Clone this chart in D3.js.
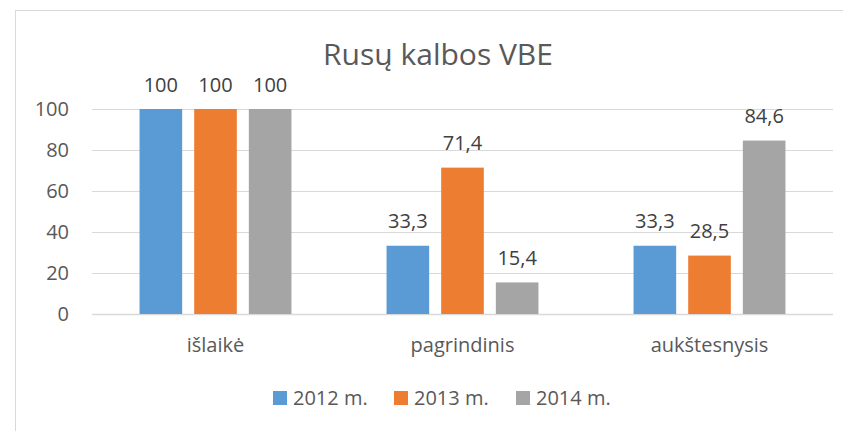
<!DOCTYPE html>
<html>
<head>
<meta charset="utf-8">
<script src="https://cdn.jsdelivr.net/npm/d3@7"></script>
<style>
  html, body { margin: 0; padding: 0; background: #fff; }
  svg { display: block; }
</style>
</head>
<body>
<div id="chart"></div>
<script>
const categories = ['išlaikė', 'pagrindinis', 'aukštesnysis'];
const seriesNames = ['2012 m.', '2013 m.', '2014 m.'];
const seriesColors = ['#5B9BD5', '#ED7D31', '#A5A5A5'];
const values2012 = [100, 33.3, 33.3];
const values2013 = [100, 71.4, 28.5];
const values2014 = [100, 15.4, 84.6];
const yTicks = [0, 20, 40, 60, 80, 100];

const seriesValues = [values2012, values2013, values2014];
const totalW = 843, totalH = 431;
const font = "'Open Sans', 'Noto Sans', sans-serif";
const textColor = '#595959';

const svg = d3.select('#chart').append('svg')
  .attr('width', totalW).attr('height', totalH);

// Chart frame (right/bottom edges are cut off in the reference)
svg.append('rect')
  .attr('x', 15.5).attr('y', 10.5)
  .attr('width', totalW + 20).attr('height', totalH + 20)
  .attr('fill', '#fff').attr('stroke', '#D9D9D9').attr('stroke-width', 1);

const plot = { left: 92, right: 833, top: 109, bottom: 314 };

const x0 = d3.scaleBand().domain(categories)
  .range([plot.left, plot.right]).paddingInner(0.385).paddingOuter(0.1925);
const x1 = d3.scaleBand().domain(seriesNames)
  .range([0, x0.bandwidth()]).paddingInner(0.22);
const y = d3.scaleLinear().domain([0, 100]).range([plot.bottom, plot.top]);

// Grid
svg.append('g').selectAll('line')
  .data(yTicks).enter().append('line')
  .attr('x1', plot.left).attr('x2', plot.right)
  .attr('y1', d => Math.round(y(d)) + 0.5).attr('y2', d => Math.round(y(d)) + 0.5)
  .attr('stroke', '#D9D9D9').attr('stroke-width', d => d === 0 ? 1.5 : 1);

// Y axis labels
const yAxis = svg.append('g')
  .attr('transform', `translate(${plot.left - 23},0)`)
  .call(d3.axisLeft(y).tickValues(yTicks).tickSize(0).tickPadding(0));
yAxis.select('.domain').remove();
yAxis.selectAll('text')
  .attr('fill', textColor).attr('font-family', font).attr('font-size', '20px');

// X axis labels
const xAxis = svg.append('g')
  .attr('transform', `translate(0,${plot.bottom})`)
  .call(d3.axisBottom(x0).tickSize(0).tickPadding(0));
xAxis.select('.domain').remove();
xAxis.selectAll('text')
  .attr('fill', textColor).attr('font-family', font).attr('font-size', '20px')
  .attr('dy', '1.9em');

// Bars
const fmt = v => Number.isInteger(v) ? String(v) : v.toFixed(1).replace('.', ',');
const rows = [];
categories.forEach((c, i) => {
  seriesNames.forEach((s, j) => rows.push({ cat: c, series: s, idx: j, value: seriesValues[j][i] }));
});

const bars = svg.append('g');
bars.selectAll('rect')
  .data(rows).enter().append('rect')
  .attr('x', d => x0(d.cat) + x1(d.series))
  .attr('y', d => y(d.value))
  .attr('width', x1.bandwidth())
  .attr('height', d => y(0) - y(d.value))
  .attr('fill', d => seriesColors[d.idx]);

bars.selectAll('text')
  .data(rows).enter().append('text')
  .attr('x', d => x0(d.cat) + x1(d.series) + x1.bandwidth() / 2)
  .attr('y', d => y(d.value) - 17.5)
  .attr('text-anchor', 'middle')
  .attr('fill', '#404040').attr('font-family', font).attr('font-size', '20px')
  .text(d => fmt(d.value));

// Title
svg.append('text')
  .attr('x', 438).attr('y', 65)
  .attr('text-anchor', 'middle')
  .attr('fill', textColor).attr('font-family', font).attr('font-size', '30px')
  .text('Rusų kalbos VBE');

// Legend
const legendX = [273, 394, 516];
const legend = svg.append('g');
const items = legend.selectAll('g')
  .data(seriesNames).enter().append('g')
  .attr('transform', (d, i) => `translate(${legendX[i]},391)`);
items.append('rect')
  .attr('width', 14).attr('height', 14)
  .attr('fill', (d, i) => seriesColors[i]);
items.append('text')
  .attr('x', 20).attr('y', 14)
  .attr('fill', textColor).attr('font-family', font).attr('font-size', '20px')
  .text(d => d);
</script>
</body>
</html>
